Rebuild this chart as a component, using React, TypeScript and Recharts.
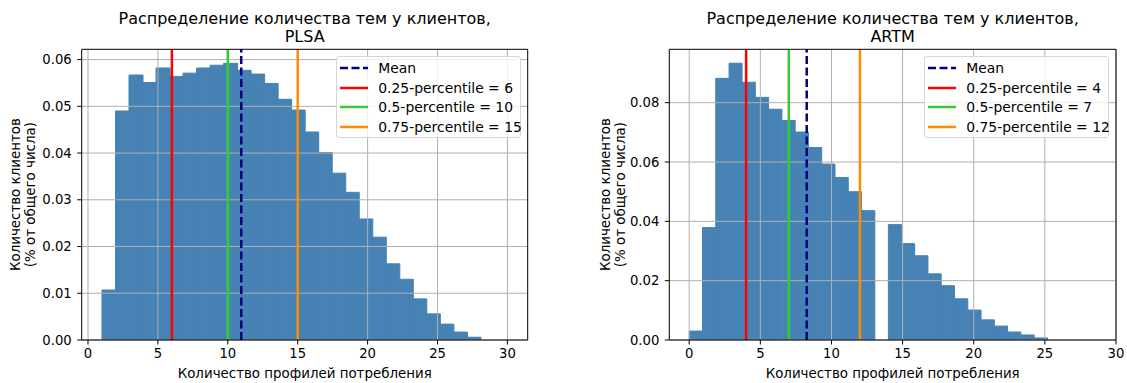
import React from 'react';
import { ComposedChart, Bar, XAxis, YAxis, ReferenceLine, Legend } from 'recharts';

// ---- data ----
const plsaRange: [number, number] = [1, 30];
const plsaDensity = [
  0.0107, 0.0490, 0.0567, 0.0551, 0.0582, 0.0564, 0.0571, 0.0582, 0.0588, 0.0592,
  0.0577, 0.0569, 0.0549, 0.0515, 0.0492, 0.0445, 0.0401, 0.0357, 0.0316, 0.0259,
  0.0220, 0.0163, 0.0130, 0.0088, 0.0056, 0.0034, 0.0017, 0.0006, 0, 0,
];
const plsaMean = 10.96;
const plsaQuantiles = [6, 10, 15];

const artmRange: [number, number] = [0, 28];
const artmDensity = [
  0.0030, 0.0379, 0.0882, 0.0933, 0.0869, 0.0818, 0.0778, 0.0740, 0.0701, 0.0649,
  0.0593, 0.0548, 0.0500, 0.0436, 0, 0.0389, 0.0325, 0.0284, 0.0223, 0.0183,
  0.0139, 0.0101, 0.0068, 0.0047, 0.0027, 0.0017, 0.0007, 0, 0, 0,
];
const artmMean = 8.26;
const artmQuantiles = [4, 7, 12];

const quantileLevels = ['0.25', '0.5', '0.75'];
const quantileColors = ['#ff0000', '#32cd32', '#ff8c00'];
const meanColor = '#000080';
const barColor = '#4682b4';
const gridColor = '#b0b0b0';

const xTicks = [0, 5, 10, 15, 20, 25, 30];
const plsaYTicks = [0, 0.01, 0.02, 0.03, 0.04, 0.05, 0.06];
const artmYTicks = [0, 0.02, 0.04, 0.06, 0.08];

const titleLine1 = 'Распределение количества тем у клиентов,';
const yLabel1 = 'Количество клиентов';
const yLabel2 = '(% от общего числа)';
const xLabel = 'Количество профилей потребления';

const FONT = 'DejaVu Sans, sans-serif';

function makeBins(range: [number, number], values: number[]) {
  const w = (range[1] - range[0]) / values.length;
  return values.map((v, i) => ({ x: range[0] + (i + 0.5) * w, y: v }));
}

type PanelProps = {
  name: string;
  data: { x: number; y: number }[];
  mean: number;
  quantiles: number[];
  xDomain: [number, number];
  yDomain: [number, number];
  yTicks: number[];
  left: number;
  width: number;
  plotLeft: number;
  plotRight: number;
  yLabOffsets: [number, number];
  legendLeft: number;
};

const Panel = (p: PanelProps) => {
  const height = 383;
  const top = 49.3;
  const bottom = 340;
  const legendItems = [
    { label: 'Mean', color: meanColor, dashed: true },
    ...p.quantiles.map((q, i) => ({
      label: `${quantileLevels[i]}-percentile = ${q}`,
      color: quantileColors[i],
      dashed: false,
    })),
  ];
  const plotCenter = (p.plotLeft + p.plotRight) / 2;
  return (
    <div style={{ position: 'absolute', left: p.left, top: 0, width: p.width, height }}>
      <div
        style={{
          position: 'absolute',
          left: plotCenter - 250,
          width: 500,
          top: 9.6,
          textAlign: 'center',
          fontFamily: FONT,
          fontSize: 16,
          lineHeight: '18px',
          color: '#000',
        }}
      >
        {titleLine1}
        <br />
        {p.name}
      </div>
      <ComposedChart
        width={p.width}
        height={height}
        data={p.data}
        margin={{ top, right: p.width - p.plotRight, bottom: 0, left: 0 }}
        barCategoryGap={0}
        barGap={0}
      >
        <XAxis
          type="number"
          dataKey="x"
          domain={p.xDomain}
          allowDataOverflow
          ticks={xTicks}
          interval={0}
          height={height - bottom}
          tickSize={4.5}
          tickMargin={4}
          stroke="#000"
          tick={{ fill: '#000', fontSize: 13.2, fontFamily: FONT }}
          tickLine={{ stroke: '#000' }}
          axisLine={{ stroke: '#000' }}
          label={{
            content: (lp: any) => {
              const vb = lp.viewBox;
              return (
                <text
                  x={vb.x + vb.width / 2}
                  y={vb.y + 37.5}
                  textAnchor="middle"
                  fontSize={13.4}
                  fontFamily={FONT}
                  fill="#000"
                >
                  {xLabel}
                </text>
              );
            },
          }}
        />
        <YAxis
          type="number"
          domain={p.yDomain}
          allowDataOverflow
          ticks={p.yTicks}
          interval={0}
          width={p.plotLeft}
          tickSize={4.5}
          tickMargin={5.5}
          tickFormatter={(v: number) => v.toFixed(2)}
          tick={{ fill: '#000', fontSize: 13.2, fontFamily: FONT }}
          tickLine={{ stroke: '#000' }}
          axisLine={{ stroke: '#000' }}
          label={{
            content: (lp: any) => {
              const vb = lp.viewBox;
              const right = vb.x + vb.width;
              const cy = vb.y + vb.height / 2;
              return (
                <g>
                  {[yLabel1, yLabel2].map((t, i) => (
                    <text
                      key={i}
                      transform={`translate(${right + p.yLabOffsets[i]},${cy}) rotate(-90)`}
                      textAnchor="middle"
                      dominantBaseline="central"
                      fontSize={13.4}
                      fontFamily={FONT}
                      fill="#000"
                    >
                      {t}
                    </text>
                  ))}
                </g>
              );
            },
          }}
        />
        <Bar
          dataKey="y"
          fill={barColor}
          stroke={barColor}
          strokeWidth={1}
          isAnimationActive={false}
        />
        {xTicks.map((t) => (
          <ReferenceLine key={`gx${t}`} x={t} stroke={gridColor} strokeWidth={1} />
        ))}
        {p.yTicks.map((t) => (
          <ReferenceLine key={`gy${t}`} y={t} stroke={gridColor} strokeWidth={1} />
        ))}
        <ReferenceLine x={p.mean} stroke={meanColor} strokeWidth={2.5} strokeDasharray="8 3.5" />
        {p.quantiles.map((q, i) => (
          <ReferenceLine key={`q${i}`} x={q} stroke={quantileColors[i]} strokeWidth={2.5} />
        ))}
        <ReferenceLine y={p.yDomain[1]} stroke="#000" strokeWidth={1} />
        <ReferenceLine x={p.xDomain[1]} stroke="#000" strokeWidth={1} />
        <Legend
          layout="vertical"
          align="center"
          verticalAlign="middle"
          wrapperStyle={{ left: p.legendLeft, top: 56, width: 185, height: 82 }}
          content={() => (
            <div
              style={{
                position: 'relative',
                width: 185,
                height: 82,
                boxSizing: 'border-box',
                border: '1px solid #d6d6d6',
                borderRadius: 3,
                background: 'rgba(255,255,255,0.8)',
                fontFamily: FONT,
                fontSize: 13.9,
                color: '#000',
              }}
            >
              {legendItems.map((it, i) => (
                <div
                  key={i}
                  style={{
                    position: 'absolute',
                    left: 0,
                    top: 1.6 + i * 19.45,
                    height: 19.45,
                    width: '100%',
                    display: 'flex',
                    alignItems: 'center',
                  }}
                >
                  <svg width={28} height={6} style={{ marginLeft: 3.6, flex: 'none' }}>
                    <line
                      x1={0}
                      x2={28}
                      y1={3}
                      y2={3}
                      stroke={it.color}
                      strokeWidth={2.5}
                      strokeDasharray={it.dashed ? '8 3.5' : undefined}
                    />
                  </svg>
                  <span style={{ marginLeft: 10, whiteSpace: 'nowrap' }}>{it.label}</span>
                </div>
              ))}
            </div>
          )}
        />
      </ComposedChart>
    </div>
  );
};

export default function App() {
  return (
    <div
      style={{
        position: 'absolute',
        left: 0,
        top: 0,
        width: 1127,
        height: 383,
        background: '#fff',
        fontFamily: FONT,
      }}
    >
      <Panel
        name="PLSA"
        data={makeBins(plsaRange, plsaDensity)}
        mean={plsaMean}
        quantiles={plsaQuantiles}
        xDomain={[-0.45, 31.45]}
        yDomain={[0, 0.0622]}
        yTicks={plsaYTicks}
        left={0}
        width={560}
        plotLeft={81.7}
        plotRight={527.7}
        yLabOffsets={[-66, -51]}
        legendLeft={335.7}
      />
      <Panel
        name="ARTM"
        data={makeBins(artmRange, artmDensity)}
        mean={artmMean}
        quantiles={artmQuantiles}
        xDomain={[-1.4, 30]}
        yDomain={[0, 0.098]}
        yTicks={artmYTicks}
        left={560}
        width={567}
        plotLeft={109.3}
        plotRight={556}
        yLabOffsets={[-63.5, -48.5]}
        legendLeft={363.7}
      />
    </div>
  );
}
